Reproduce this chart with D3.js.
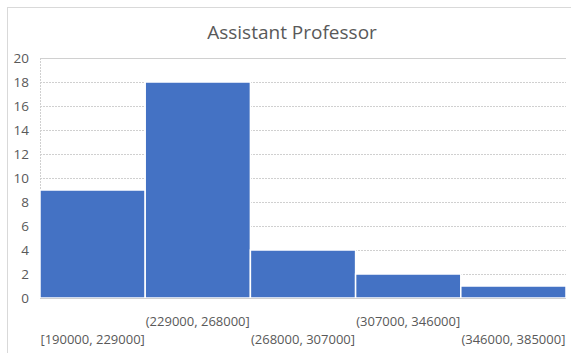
<!DOCTYPE html>
<html>
<head>
<meta charset="utf-8">
<script src="https://cdn.jsdelivr.net/npm/d3@7"></script>
<style>
  html, body { margin: 0; padding: 0; background: #fff; }
  svg { display: block; }
</style>
</head>
<body>
<svg id="chart" width="571" height="353"></svg>
<script>
const categories = ["[190000, 229000]", "(229000, 268000]", "(268000, 307000]", "(307000, 346000]", "(346000, 385000]"];
const counts = [9, 18, 4, 2, 1];
const yTicks = [0, 2, 4, 6, 8, 10, 12, 14, 16, 18, 20];
const title = "Assistant Professor";

const W = 571, H = 353;
const margin = { left: 40, right: 5, top: 58, bottom: 55 };
const svg = d3.select("#chart");
const font = "'Open Sans', 'Noto Sans', sans-serif";
const textColor = "#595959";

// chart border
svg.append("rect").attr("x", 7.5).attr("y", 7.5).attr("width", W - 7).attr("height", H - 7)
  .attr("fill", "#fff").attr("stroke", "#d9d9d9").attr("stroke-width", 1);

const x = d3.scaleBand().domain(categories).range([margin.left, 566]).padding(0);
const y = d3.scaleLinear().domain([0, 20]).range([298, 58]);

// gridlines
svg.append("g").selectAll("line").data(yTicks.filter(d => d > 0)).join("line")
  .attr("x1", margin.left).attr("x2", 566)
  .attr("y1", d => Math.round(y(d)) + 0.5).attr("y2", d => Math.round(y(d)) + 0.5)
  .attr("stroke", "#d0d0d0").attr("stroke-width", 1)
  .attr("stroke-dasharray", d => d === 20 ? null : "2,1");
// left dashed vertical
svg.append("line").attr("x1", margin.left + 0.5).attr("x2", margin.left + 0.5)
  .attr("y1", y(20)).attr("y2", y(0))
  .attr("stroke", "#d0d0d0").attr("stroke-dasharray", "2,1");

// bars
svg.append("g").selectAll("rect").data(counts).join("rect")
  .attr("x", (d, i) => x(categories[i]))
  .attr("width", x.bandwidth())
  .attr("y", d => y(d))
  .attr("height", d => y(0) - y(d))
  .attr("fill", "#4472C4")
  .attr("stroke", "#ffffff").attr("stroke-width", 1.5);

// baseline
svg.append("line").attr("x1", margin.left).attr("x2", 566)
  .attr("y1", 298.5).attr("y2", 298.5).attr("stroke", "#d0d0d0");

// y axis
const yAxis = d3.axisLeft(y).tickValues(yTicks).tickSize(0).tickPadding(0);
const gy = svg.append("g").attr("transform", "translate(29,0)").call(yAxis);
gy.select(".domain").remove();
gy.selectAll("text").attr("font-family", font).attr("font-size", 13.5).attr("fill", textColor);

// x labels (staggered)
const xAxis = d3.axisBottom(x).tickSize(0);
const gx = svg.append("g").attr("transform", "translate(0,298)").call(xAxis);
gx.select(".domain").remove();
gx.selectAll("text")
  .attr("font-family", font).attr("font-size", 13).attr("fill", textColor)
  .attr("dy", null)
  .attr("y", (d, i) => i % 2 === 0 ? 41 : 23)
  .attr("dominant-baseline", "central");

// title
svg.append("text").attr("x", 292).attr("y", 32).attr("text-anchor", "middle")
  .attr("dominant-baseline", "central")
  .attr("font-family", font).attr("font-size", 19).attr("fill", textColor)
  .text(title);
</script>
</body>
</html>
